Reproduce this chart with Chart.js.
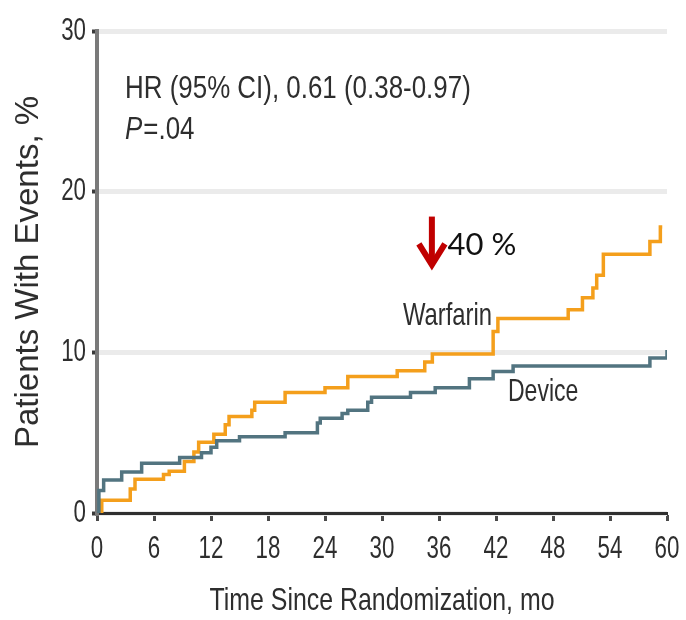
<!DOCTYPE html>
<html>
<head>
<meta charset="utf-8">
<script src="https://cdn.jsdelivr.net/npm/chart.js@4.4.1/dist/chart.umd.min.js"></script>
<style>
  html, body { margin: 0; padding: 0; background: #ffffff; }
  #chart { display: block; }
</style>
</head>
<body>
<canvas id="chart" width="686" height="620"></canvas>
<script>
// Kaplan-Meier style cumulative event curves (months since randomization, % with events)
const warfarinMonths = [0, 0.5, 3.5, 4.0, 7.0, 7.6, 9.2, 10.2, 10.7, 12.3, 13.5, 13.9, 16.3, 16.6, 19.8, 24.0, 26.4, 31.6, 34.5, 35.3, 41.7, 42.2, 49.6, 51.1, 52.2, 52.6, 53.3, 58.2, 59.3, 59.5];
const warfarinPct    = [0, 0.8, 1.5, 2.1, 2.4, 2.6, 3.2, 3.8, 4.4, 4.9, 5.5, 6.0, 6.4, 6.9, 7.5, 7.8, 8.5, 8.85, 9.4, 9.9, 11.3, 12.1, 12.65, 13.4, 14.0, 14.8, 16.1, 16.9, 17.8, 17.8];

const deviceMonths = [0, 0.2, 0.7, 2.6, 4.7, 8.7, 11.0, 12.0, 12.6, 15.0, 19.8, 23.2, 23.5, 25.8, 26.4, 28.5, 28.9, 33.0, 35.6, 39.2, 41.7, 43.8, 58.2, 60.0];
const devicePct    = [0, 1.4, 2.05, 2.55, 3.1, 3.45, 3.75, 4.1, 4.5, 4.75, 5.0, 5.6, 5.9, 6.2, 6.4, 6.9, 7.2, 7.5, 7.8, 8.35, 8.8, 9.15, 9.65, 10.15];

const xTicks = [0, 6, 12, 18, 24, 30, 36, 42, 48, 54, 60];
const yTicks = [0, 10, 20, 30];

const xTitle = 'Time Since Randomization, mo';
const yTitle = 'Patients With Events, %';
const hrText = 'HR (95% CI), 0.61 (0.38-0.97)';
const pLabel = 'P';
const pValue = '=.04';
const reductionText = '40 %';

const toPoints = (xs, ys) => xs.map((x, i) => ({ x: x, y: ys[i] }));

const SANS = '"Liberation Sans", Arial, sans-serif';
const TEXT_COLOR = '#2e2e2e';

// Condensed lettering: regular sans squeezed horizontally
function narrowText(ctx, text, x, y, size, sx, align, style) {
  ctx.save();
  ctx.translate(x, y);
  ctx.scale(sx, 1);
  ctx.font = (style ? style + ' ' : '') + size + 'px ' + SANS;
  ctx.textAlign = align;
  ctx.textBaseline = 'middle';
  ctx.fillText(text, 0, 0);
  const w = ctx.measureText(text).width * sx;
  ctx.restore();
  return w;
}

// Tick labels, axis title, text and arrow annotations
const annotations = {
  id: 'annotations',
  afterDraw(chart) {
    const { ctx, scales: { x, y } } = chart;
    ctx.save();
    ctx.fillStyle = TEXT_COLOR;

    // tick labels from the scales' own ticks
    x.ticks.forEach(t => {
      narrowText(ctx, String(t.value), x.getPixelForValue(t.value), x.top + 36, 31, 0.72, 'center');
    });
    y.ticks.forEach(t => {
      narrowText(ctx, String(t.value), y.right - 11, y.getPixelForValue(t.value), 31, 0.72, 'right');
    });

    narrowText(ctx, xTitle, (x.left + x.right) / 2, x.bottom - 19, 32, 0.778, 'center');

    narrowText(ctx, hrText, x.getPixelForValue(2.95), y.getPixelForValue(26.35), 32, 0.81, 'left');
    const px = x.getPixelForValue(2.95), py = y.getPixelForValue(23.85);
    const pw = narrowText(ctx, pLabel, px, py, 32, 0.81, 'left', 'italic');
    narrowText(ctx, pValue, px + pw + 1, py, 32, 0.81, 'left');

    narrowText(ctx, 'Warfarin', x.getPixelForValue(32.2), y.getPixelForValue(12.27), 32, 0.745, 'left');
    narrowText(ctx, 'Device', x.getPixelForValue(43.26), y.getPixelForValue(7.54), 32, 0.72, 'left');

    // downward red arrow
    const ax = x.getPixelForValue(35.25);
    const top = y.getPixelForValue(18.45);
    const tip = y.getPixelForValue(15.2);
    const wing = y.getPixelForValue(16.75);
    const half = x.getPixelForValue(35.25 + 1.37) - ax;
    ctx.strokeStyle = '#c00000';
    ctx.lineWidth = 6;
    ctx.lineCap = 'butt';
    ctx.lineJoin = 'miter';
    ctx.beginPath();
    ctx.moveTo(ax, top);
    ctx.lineTo(ax, tip - 4);
    ctx.stroke();
    ctx.beginPath();
    ctx.moveTo(ax - half, wing);
    ctx.lineTo(ax, tip - 4);
    ctx.lineTo(ax + half, wing);
    ctx.stroke();

    ctx.fillStyle = '#111111';
    ctx.font = '31px Lato, "Open Sans", sans-serif';
    ctx.textAlign = 'left';
    ctx.textBaseline = 'middle';
    ctx.fillText(reductionText, x.getPixelForValue(36.9), y.getPixelForValue(16.7));
    ctx.restore();
  }
};

new Chart(document.getElementById('chart'), {
  type: 'line',
  data: {
    datasets: [
      {
        label: 'Device',
        data: toPoints(deviceMonths, devicePct),
        borderColor: '#527480',
        borderWidth: 3.5,
        stepped: true,
        pointRadius: 0,
        fill: false
      },
      {
        label: 'Warfarin',
        data: toPoints(warfarinMonths, warfarinPct),
        borderColor: '#f49f1c',
        borderWidth: 3.5,
        stepped: true,
        pointRadius: 0,
        fill: false
      }
    ]
  },
  options: {
    responsive: false,
    devicePixelRatio: 1,
    animation: false,
    layout: { padding: { top: 31, right: 19, left: 0, bottom: 0 } },
    plugins: {
      legend: { display: false },
      tooltip: { enabled: false }
    },
    scales: {
      x: {
        type: 'linear',
        min: 0,
        max: 60,
        afterBuildTicks(scale) { scale.ticks = xTicks.map(v => ({ value: v })); },
        afterFit(scale) { scale.height = 107; },
        ticks: { display: false },
        grid: {
          drawOnChartArea: false,
          drawTicks: true,
          tickLength: 8,
          tickColor: '#4a4a4a',
          tickWidth: 3
        },
        border: { color: '#2f2f2f', width: 3 },
        title: { display: false }
      },
      y: {
        min: 0,
        max: 30,
        afterBuildTicks(scale) { scale.ticks = yTicks.map(v => ({ value: v })); },
        afterFit(scale) { scale.width = 97; },
        ticks: { display: false },
        grid: {
          color: '#ebebeb',
          lineWidth: 5,
          drawTicks: true,
          tickLength: 5,
          tickColor: '#3a3a3a',
          tickWidth: 4
        },
        border: { color: '#7a7a7a', width: 4 },
        title: {
          display: true,
          text: yTitle,
          font: { family: SANS, size: 33, lineHeight: 1 },
          color: TEXT_COLOR,
          padding: { top: 12, bottom: 0 }
        }
      }
    }
  },
  plugins: [annotations]
});
</script>
</body>
</html>
